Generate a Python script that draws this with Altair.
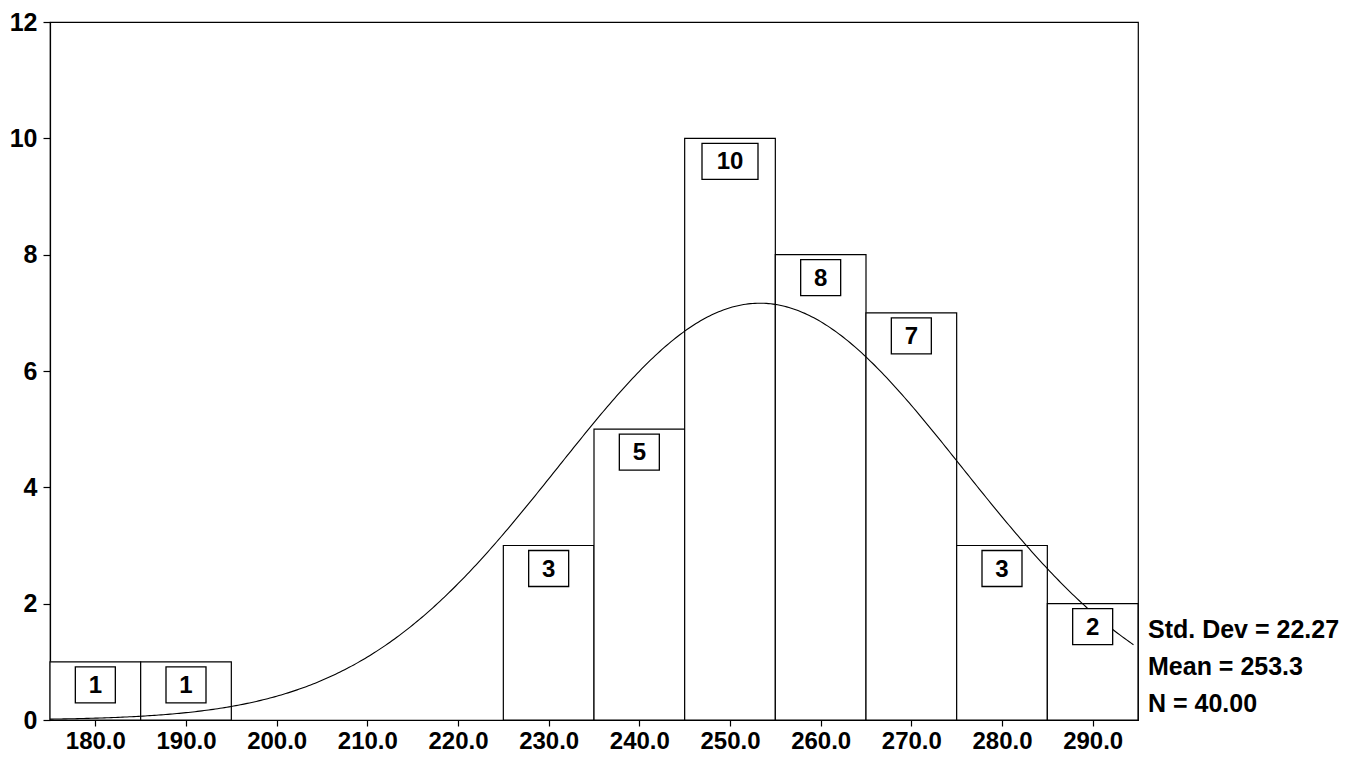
import altair as alt
import pandas as pd

# ---- data ----
bin_start = [175, 185, 195, 205, 215, 225, 235, 245, 255, 265, 275, 285]
bin_mid = [180, 190, 200, 210, 220, 230, 240, 250, 260, 270, 280, 290]
counts = [1, 1, 0, 0, 0, 3, 5, 10, 8, 7, 3, 2]
bin_width = 10
x_ticks = [180, 190, 200, 210, 220, 230, 240, 250, 260, 270, 280, 290]
y_ticks = [0, 2, 4, 6, 8, 10, 12]
std_dev = 22.27
mean = 253.3
n_obs = 40.00

FONT = "Liberation Sans"

df = pd.DataFrame({"start": bin_start, "mid": bin_mid, "count": counts})
df = df[df["count"] > 0]

xs = alt.Scale(domain=[175, 295], nice=False, zero=False)
ys = alt.Scale(domain=[0, 12], nice=False)

base = alt.Chart(df)

bars = base.mark_rect(fill="white", stroke="black", strokeWidth=1.2).transform_calculate(
    end=f"datum.start + {bin_width}"
).encode(
    x=alt.X("start:Q", scale=xs,
            axis=alt.Axis(values=x_ticks, format=".1f", title=None, grid=False,
                          tickSize=6, labelPadding=3)),
    x2="end:Q",
    y=alt.Y("count:Q", scale=ys,
            axis=alt.Axis(values=y_ticks, format="d", title=None, grid=False,
                          tickSize=7, labelPadding=6, labelFontSize=25)),
    y2=alt.datum(0),
)

curve = alt.Chart(alt.sequence(175, 294.6, 0.25, as_="v")).transform_calculate(
    dens=f"{n_obs} * {bin_width} * densityNormal(datum.v, {mean}, {std_dev})"
).mark_line(color="black", strokeWidth=1.1).encode(
    x=alt.X("v:Q", scale=xs),
    y=alt.Y("dens:Q", scale=ys),
)

box1 = "M-1,-0.9H1V0.9H-1Z"
box2 = "M-1.4,-0.9H1.4V0.9H-1.4Z"

boxes = base.transform_calculate(
    shp=f"datum.count >= 10 ? '{box2}' : '{box1}'"
).mark_point(filled=False, fill="white", fillOpacity=1, stroke="black",
             strokeWidth=1.3, size=1600, opacity=1, yOffset=23).encode(
    x=alt.X("mid:Q", scale=xs),
    y=alt.Y("count:Q", scale=ys),
    shape=alt.Shape("shp:N", scale=None),
)

labels = base.mark_text(font=FONT, fontSize=24, fontWeight="bold", color="black",
                        baseline="middle", align="center", yOffset=24).encode(
    x=alt.X("mid:Q", scale=xs),
    y=alt.Y("count:Q", scale=ys),
    text=alt.Text("count:Q", format="d"),
)

stats_lines = [f"Std. Dev = {std_dev:.2f}", f"Mean = {mean:.1f}", f"N = {n_obs:.2f}"]
stats = alt.Chart(pd.DataFrame({"a": [0]})).mark_text(
    text=stats_lines, font=FONT, fontSize=25, fontWeight="bold", color="black",
    align="left", baseline="alphabetic", lineHeight=37,
).encode(x=alt.value(1098), y=alt.value(616))

chart = alt.layer(bars, curve, boxes, labels, stats).properties(
    width=1088, height=698,
    autosize=alt.AutoSizeParams(type="none"),
    padding={"left": 42, "top": 14, "right": 212, "bottom": 35},
    background="white",
).configure_view(stroke="black", strokeWidth=1.2).configure_axis(
    domainColor="black", tickColor="black", labelColor="black",
    labelFont=FONT, labelFontSize=24, labelFontWeight="bold",
    domainWidth=1.2, tickWidth=1.2,
)

chart.save("out.html", embed_options={"renderer": "svg", "actions": False})
